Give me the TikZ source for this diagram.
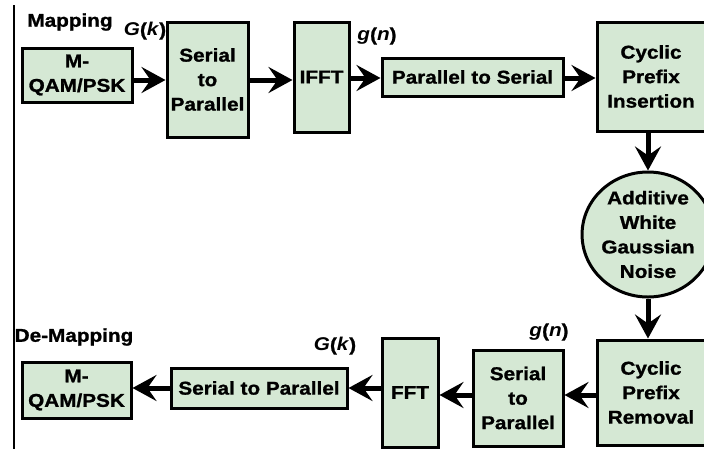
\documentclass[tikz,border=0pt]{standalone}
\usepackage{fontspec}
\setmainfont[FakeStretch=1.12,BoldFeatures={FakeBold=1.2}]{Liberation Sans}
\usetikzlibrary{arrows.meta,shapes.geometric}
\definecolor{boxgreen}{HTML}{D5E8D4}
\begin{document}
\begin{tikzpicture}[x=1pt,y=-1pt,
  blk/.style={draw=black,line width=3pt,fill=boxgreen,align=center,inner sep=0pt,
    font=\bfseries\fontsize{18.5}{24.5}\selectfont},
  lbl/.style={inner sep=0pt,font=\bfseries\fontsize{18.5}{22}\selectfont},
  arr/.style={line width=5pt,-{Stealth[length=24pt,width=26pt,inset=9pt]}}]
\useasboundingbox (0,0) rectangle (704,448);
\clip (0,0) rectangle (704,448);
\draw[line width=2pt] (14,5) -- (14,450);
% top row
\node[blk,minimum width=110pt,minimum height=54pt] (map) at (77,75) {M-\\QAM/PSK};
\node[blk,minimum width=81pt,minimum height=115pt] (sp1) at (207.5,79.5) {Serial\\to\\Parallel};
\node[blk,minimum width=55pt,minimum height=110pt] (ifft) at (321.5,77) {IFFT};
\node[blk,minimum width=181pt,minimum height=38pt] (ps) at (472.5,77) {Parallel to Serial};
\node[blk,minimum width=108pt,minimum height=109pt] (cpi) at (651,76.5) {Cyclic\\Prefix\\Insertion};
\node[blk,ellipse,minimum width=118pt,minimum height=125pt] (awgn) at (648,234.5) {Additive\\White\\Gaussian\\Noise};
\node[blk,minimum width=108pt,minimum height=105pt] (cpr) at (651,392.5) {Cyclic\\Prefix\\Removal};
\node[blk,minimum width=90pt,minimum height=96pt] (sp2) at (518,398) {Serial\\to\\Parallel};
\node[blk,minimum width=56pt,minimum height=109pt] (fft) at (410,392.5) {FFT};
\node[blk,minimum width=176pt,minimum height=40pt] (spw) at (259,388) {Serial to Parallel};
\node[blk,minimum width=109pt,minimum height=56pt] (demap) at (76.5,390) {M-\\QAM/PSK};
% labels
\node[lbl] (lmap) at (70,22) {Mapping};
\node[lbl] (gk1) at (145,31) {\textit{G}(\textit{k})};
\node[lbl] (gn1) at (377,36) {\textit{g}(\textit{n})};
\node[lbl] (ldemap) at (74,337) {De-Mapping};
\node[lbl] (gk2) at (335,346) {\textit{G}(\textit{k})};
\node[lbl] (gn2) at (549,332) {\textit{g}(\textit{n})};
% connectors
\coordinate (c1) at (0,80);
\coordinate (c2) at (0,78);
\coordinate (c3) at (0,395);
\coordinate (c4) at (0,388);
\draw[arr] (map.east |- c1) -- (sp1.west |- c1);
\draw[arr] (sp1.east |- c1) -- (ifft.west |- c1);
\draw[arr] (ifft.east |- c2) -- (ps.west |- c2);
\draw[arr] (ps.east |- c2) -- (cpi.west |- c2);
\draw[arr] (cpi.south -| awgn.north) -- (awgn.north);
\draw[arr] (awgn.south) -- (awgn.south |- cpr.north);
\draw[arr] (cpr.west |- c3) -- (sp2.east |- c3);
\draw[arr] (sp2.west |- c3) -- (fft.east |- c3);
\draw[arr] (fft.west |- c4) -- (spw.east |- c4);
\draw[arr] (spw.west |- c4) -- (demap.east |- c4);
\end{tikzpicture}
\end{document}
